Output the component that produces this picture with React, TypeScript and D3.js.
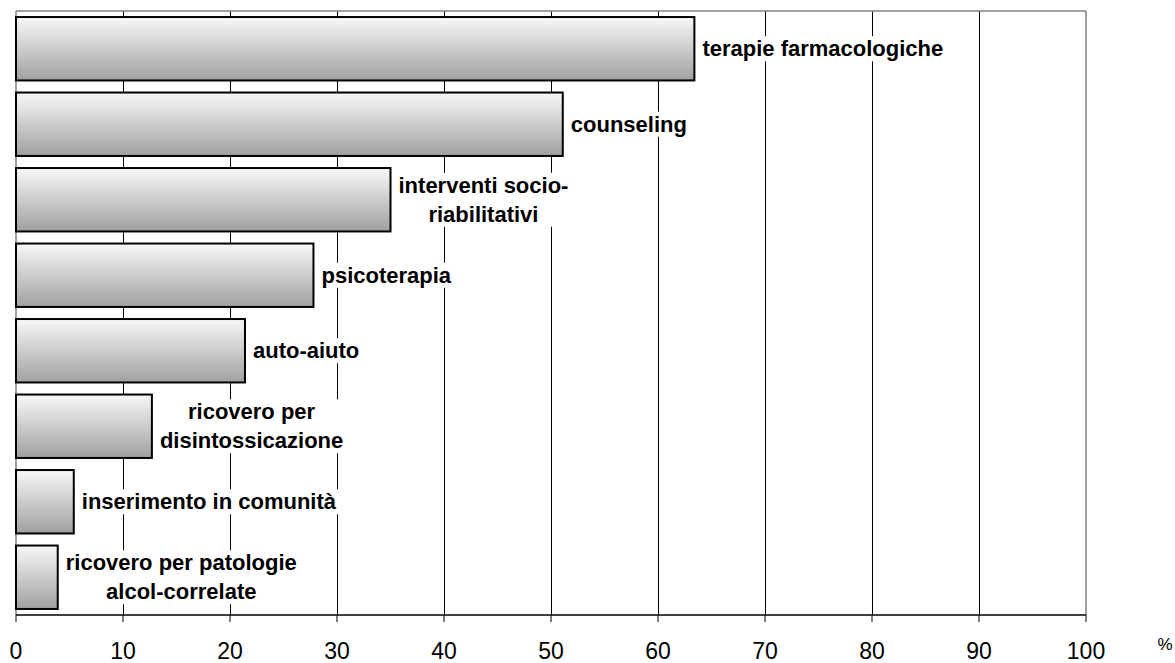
import React, { useEffect, useRef } from "react";
import * as d3 from "d3";

const categories: string[][] = [
  ["terapie farmacologiche"],
  ["counseling"],
  ["interventi socio-", "riabilitativi"],
  ["psicoterapia"],
  ["auto-aiuto"],
  ["ricovero per", "disintossicazione"],
  ["inserimento in comunità"],
  ["ricovero per patologie", "alcol-correlate"],
];
const values: number[] = [63.4, 51.1, 35.0, 27.8, 21.4, 12.7, 5.4, 3.9];
const ticks: number[] = [0, 10, 20, 30, 40, 50, 60, 70, 80, 90, 100];

const W = 1175, H = 663;
const M = { left: 16, top: 11, right: 1086, bottom: 615 };
const FONT = "'Liberation Sans', Arial, sans-serif";

export default function App() {
  const ref = useRef<SVGSVGElement>(null);
  useEffect(() => {
    const svg = d3.select(ref.current);
    svg.selectAll("*").remove();
    const x = d3.scaleLinear().domain([0, 100]).range([M.left, M.right]);
    const y = d3.scaleBand<number>().domain(d3.range(values.length)).range([M.top, M.bottom])
      .paddingInner(0.16).paddingOuter(0.08);

    const defs = svg.append("defs");
    const g = defs.append("linearGradient").attr("id", "barGrad").attr("x1", 0).attr("y1", 0).attr("x2", 0).attr("y2", 1);
    g.append("stop").attr("offset", "0%").attr("stop-color", "#f8f8f8");
    g.append("stop").attr("offset", "100%").attr("stop-color", "#a0a0a0");

    // gridlines
    svg.append("g").selectAll("line").data(ticks.slice(1, -1)).join("line")
      .attr("x1", d => x(d)).attr("x2", d => x(d))
      .attr("y1", M.top).attr("y2", M.bottom)
      .attr("stroke", "#000").attr("stroke-width", 1).attr("shape-rendering", "crispEdges");
    // frame
    svg.append("line").attr("x1", M.left).attr("x2", M.right).attr("y1", M.top).attr("y2", M.top)
      .attr("stroke", "#808080").attr("stroke-width", 1.5);
    svg.append("line").attr("x1", M.right).attr("x2", M.right).attr("y1", M.top).attr("y2", M.bottom)
      .attr("stroke", "#808080").attr("stroke-width", 1.5);
    svg.append("line").attr("x1", M.left).attr("x2", M.left).attr("y1", M.top).attr("y2", M.bottom)
      .attr("stroke", "#808080").attr("stroke-width", 1.5);

    // bars
    svg.append("g").selectAll("rect").data(values).join("rect")
      .attr("x", x(0)).attr("y", (_, i) => y(i)!)
      .attr("width", d => x(d) - x(0)).attr("height", y.bandwidth())
      .attr("fill", "url(#barGrad)").attr("stroke", "#000").attr("stroke-width", 2);

    // labels
    const lh = 29;
    categories.forEach((lines, i) => {
      const lg = svg.append("g");
      const bg = lg.append("rect").attr("fill", "#fff");
      const t = lg.append("text").attr("font-family", FONT).attr("font-weight", "bold")
        .attr("font-size", 22).attr("fill", "#000").attr("text-anchor", "middle");
      const cy = y(i)! + y.bandwidth() / 2;
      const y0 = cy - ((lines.length - 1) * lh) / 2 + 7.5;
      lines.forEach((l, j) => t.append("tspan").attr("x", 0).attr("y", y0 + j * lh).text(l));
      const tn = t.node() as SVGTextElement;
      const bw = d3.max(Array.from(tn.querySelectorAll("tspan")), (s: any) => s.getComputedTextLength()) || 0;
      const cx = x(values[i]) + 8 + bw / 2;
      t.selectAll("tspan").attr("x", cx);
      const bb = tn.getBBox();
      bg.attr("x", bb.x - 2).attr("y", bb.y).attr("width", bb.width + 4).attr("height", bb.height);
    });

    // bottom axis
    svg.append("line").attr("x1", M.left).attr("x2", M.right).attr("y1", M.bottom).attr("y2", M.bottom)
      .attr("stroke", "#000").attr("stroke-width", 1.5);
    svg.append("g").selectAll("line").data(ticks).join("line")
      .attr("x1", d => x(d)).attr("x2", d => x(d)).attr("y1", M.bottom).attr("y2", M.bottom + 7)
      .attr("stroke", "#000").attr("stroke-width", 1);
    svg.append("g").selectAll("text").data(ticks).join("text")
      .attr("x", d => x(d)).attr("y", 659).attr("text-anchor", "middle")
      .attr("font-family", FONT).attr("font-size", 23).attr("fill", "#000").text(d => String(d));
    svg.append("text").attr("x", 1165).attr("y", 650).attr("text-anchor", "middle")
      .attr("font-family", FONT).attr("font-size", 17).attr("fill", "#000").text("%");
  }, []);
  return (
    <svg ref={ref} width={W} height={H} style={{ position: "absolute", left: 0, top: 0, background: "#fff" }} />
  );
}
